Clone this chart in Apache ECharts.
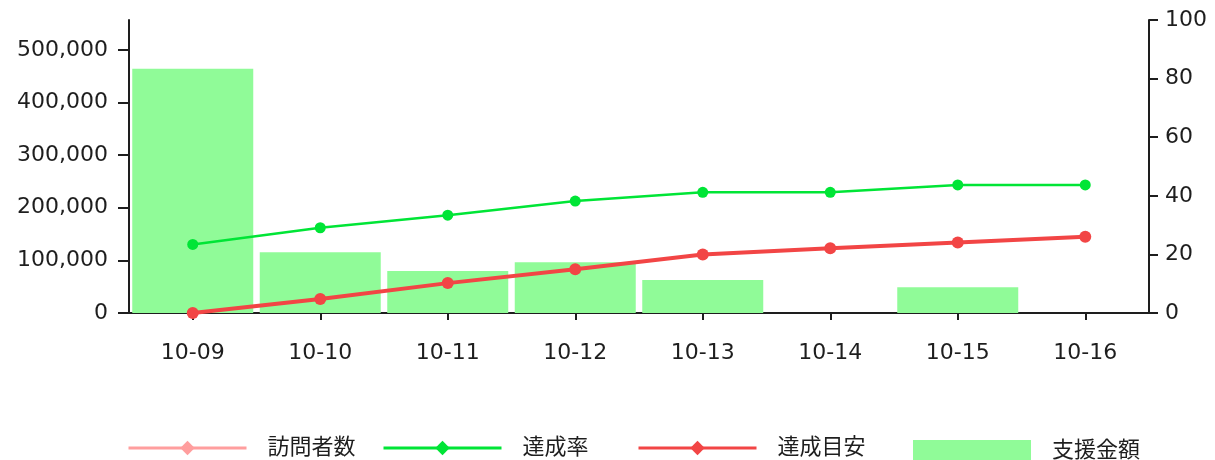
<!DOCTYPE html>
<html>
<head>
<meta charset="utf-8">
<script src="https://cdn.jsdelivr.net/npm/echarts@6/dist/echarts.min.js"></script>
<style>
  html, body { margin: 0; padding: 0; background: #fff; }
  #main { width: 1215px; height: 460px; }
</style>
</head>
<body>
<div id="main"></div>
<script>
// data
const categories = ["10-09", "10-10", "10-11", "10-12", "10-13", "10-14", "10-15", "10-16"];
const supportAmount = [464000, 115500, 80000, 96500, 62500, 0, 49000, 0]; // 支援金額 (left axis)
const achievementRate = [23.4, 29.1, 33.4, 38.2, 41.2, 41.2, 43.7, 43.7]; // 達成率 (right axis)
const achievementTarget = [0, 4.8, 10.2, 14.9, 20.0, 22.1, 24.1, 26.0]; // 達成目安 (right axis)
const visitors = []; // 訪問者数 - nothing plotted in the picture

const leftMax = 556800;
const leftInterval = 100000;
const rightMax = 100;
const rightInterval = 20;

const FONT = "'DejaVu Sans', 'Noto Sans CJK JP', sans-serif";
const INK = "#1e1e1e";

var chartDom = document.getElementById("main");
var myChart = echarts.init(chartDom);

// points are circles, the legend keeps a diamond
const asCircles = (arr) => arr.map((v) => ({ value: v, symbol: "circle" }));

const legendText = { color: INK, fontSize: 22, fontFamily: FONT, padding: [0, 0, 0, 16] };

const lineLegend = (name, left) => ({
  data: [name],
  left: left,
  top: 437,
  padding: 0,
  itemWidth: 118,
  itemHeight: 18,
  selectedMode: false,
  lineStyle: { width: 3 },
  textStyle: legendText,
});

const option = {
  animation: false,
  textStyle: { fontFamily: FONT },
  grid: { left: 129, right: 66, top: 20, bottom: 147 },
  legend: [
    lineLegend("訪問者数", 127),
    lineLegend("達成率", 382),
    lineLegend("達成目安", 637),
    {
      data: [{ name: "支援金額", icon: "rect" }],
      left: 913,
      top: 440,
      padding: 0,
      itemWidth: 118,
      itemHeight: 22,
      selectedMode: false,
      textStyle: legendText,
    },
  ],
  xAxis: {
    type: "category",
    data: categories,
    boundaryGap: true,
    axisLine: { show: true, lineStyle: { color: INK, width: 2 } },
    axisTick: { show: true, alignWithLabel: true, length: 7, lineStyle: { color: INK, width: 2 } },
    axisLabel: { color: INK, fontSize: 22, fontFamily: FONT, margin: 29 },
    splitLine: { show: false },
  },
  yAxis: [
    {
      type: "value",
      min: 0,
      max: leftMax,
      interval: leftInterval,
      axisLine: { show: true, lineStyle: { color: INK, width: 2 } },
      axisTick: { show: true, length: 11, lineStyle: { color: INK, width: 2 } },
      axisLabel: {
        color: INK,
        fontSize: 22,
        fontFamily: FONT,
        margin: 21,
        showMaxLabel: false,
        formatter: (value) => value.toLocaleString("en-US"),
      },
      splitLine: { show: false },
    },
    {
      type: "value",
      position: "right",
      min: 0,
      max: rightMax,
      interval: rightInterval,
      axisLine: { show: true, lineStyle: { color: INK, width: 2 } },
      axisTick: { show: true, length: 9, lineStyle: { color: INK, width: 2 } },
      axisLabel: { color: INK, fontSize: 22, fontFamily: FONT, margin: 16 },
      splitLine: { show: false },
    },
  ],
  series: [
    {
      name: "支援金額",
      type: "bar",
      yAxisIndex: 0,
      data: supportAmount,
      barWidth: 121,
      itemStyle: { color: "#90fb98" },
    },
    {
      name: "訪問者数",
      type: "line",
      yAxisIndex: 1,
      data: visitors,
      symbol: "diamond",
      itemStyle: { color: "#ff9e9e" },
      lineStyle: { color: "#ff9e9e", width: 3 },
    },
    {
      name: "達成率",
      type: "line",
      yAxisIndex: 1,
      data: asCircles(achievementRate),
      symbol: "diamond",
      symbolSize: 11,
      itemStyle: { color: "#00e536" },
      lineStyle: { color: "#00e536", width: 2.5 },
    },
    {
      name: "達成目安",
      type: "line",
      yAxisIndex: 1,
      data: asCircles(achievementTarget),
      symbol: "diamond",
      symbolSize: 12,
      itemStyle: { color: "#f24545" },
      lineStyle: { color: "#f24545", width: 4 },
    },
  ],
};

option && myChart.setOption(option);
</script>
</body>
</html>
